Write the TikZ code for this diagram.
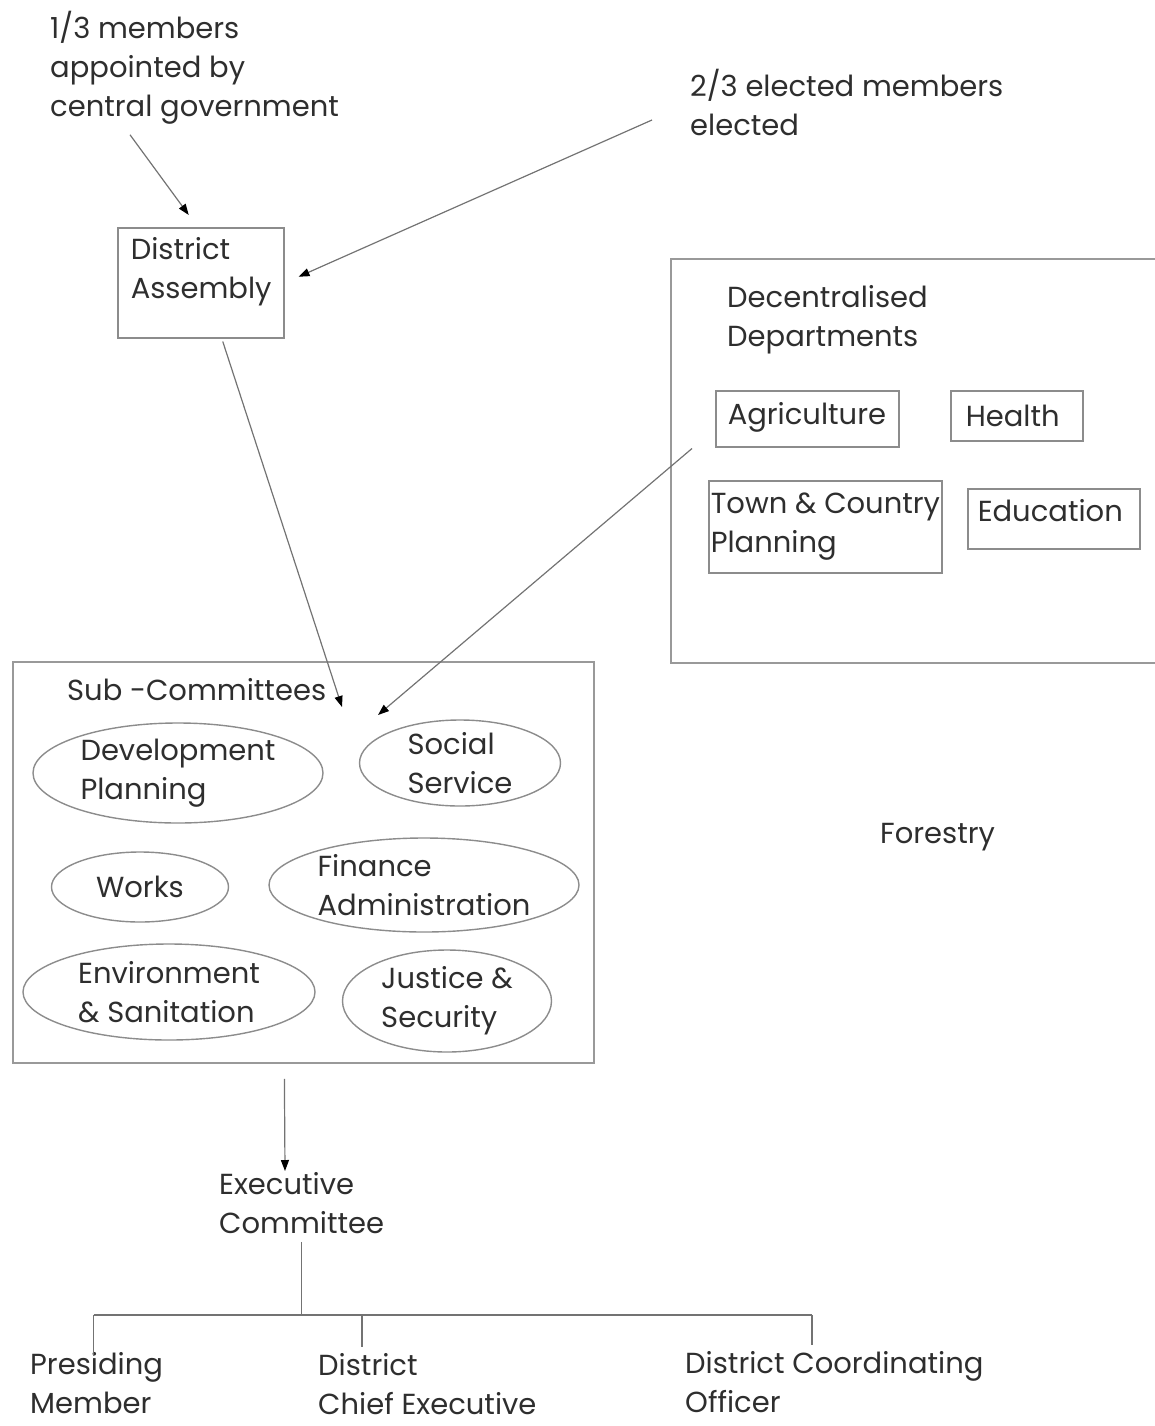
\documentclass[tikz,border=0pt]{standalone}
\usepackage{fontspec}
\setmainfont{Poppins}
\usetikzlibrary{
	arrows.meta,
	positioning,
	calc,
	shapes.geometric
}

\begin{document}
\begin{tikzpicture}[
	x=1pt, y=-1pt,
	every node/.style={font=\fontsize{29}{39}\selectfont, text=black!82},
	txt/.style={anchor=west, align=left, inner sep=0pt},
	frame/.style={
		rectangle,
		draw=black!40,
		line width=1.8pt,
		anchor=north west,
		inner sep=0pt
	},
	unit/.style={
		rectangle,
		draw=black!45,
		line width=1.5pt,
		anchor=north west,
		align=left,
		inner ysep=0pt
	},
	comm/.style={
		ellipse,
		draw=black!45,
		line width=1.4pt,
		align=left,
		inner xsep=0pt,
		inner ysep=-12pt
	},
	link/.style={draw=black!55, line width=1.2pt},
	arrow/.style={link, -{Triangle[length=11pt,width=8pt,black]}}
]
\useasboundingbox (0,0) rectangle (1155,1426);

% Membership
\node[txt] (third) at (50,68) {1/3 members\\appointed by\\central government};
\node[txt] (elected) at (690,102) {2/3 elected members\\elected};

\node[unit, minimum width=166, minimum height=110, text width=140, inner xsep=13] (assembly) at (117,227)
	{District\\Assembly\rule[-30pt]{0pt}{1pt}};

\draw[arrow] ($(third.south west)+(80,10)$) -- ($(assembly.north)+(-12,-12)$);
\draw[arrow] ($(elected.west)+(-38,18)$) -- ($(assembly.east)+(14,-6)$);

% Decentralised departments
\node[frame, minimum width=500, minimum height=404] (deptbox) at (670,258) {};
\node[txt] (depttitle) at (727,320) {Decentralised\\Departments};

\node[unit, minimum width=183, minimum height=56, text width=159, inner xsep=12] (agri) at (715,390)
	{Agriculture\rule[-10pt]{0pt}{1pt}};
\node[unit, minimum width=132, minimum height=50, text width=102, inner xsep=15] (health) at (950,390)
	{Health};
\node[unit, minimum width=232, minimum height=92, inner xsep=2] (town) at (708,480)
	{Town \& Country\\Planning};
\node[unit, minimum width=172, minimum height=60, text width=152, inner xsep=10] (educ) at (967,488)
	{Education\rule[-16pt]{0pt}{1pt}};

\node[txt] (forestry) at (880,837) {Forestry};

% Sub-committees
\node[frame, minimum width=581, minimum height=401] (subbox) at (12,661) {};
\node[txt] (subtitle) at (67,690) {Sub -Committees};

\node[comm, minimum width=290, minimum height=100] (devplan) at (178,773) {Development\\Planning};
\node[comm, minimum width=201, minimum height=86] (social) at (460,763) {Social\\Service};
\node[comm, minimum width=177, minimum height=70, inner ysep=0pt] (works) at (140,887) {Works};
\node[comm, minimum width=310, minimum height=94] (finance) at (424,885) {Finance\\Administration};
\node[comm, minimum width=292, minimum height=96] (environ) at (169,992) {Environment\\\& Sanitation};
\node[comm, minimum width=209, minimum height=102] (justice) at (447,1001) {Justice \&\\Security};

\draw[arrow] ($(assembly.south)+(22,3)$) -- ($(subbox.north west)+(330,46)$);
\draw[arrow] ($(agri.south west)+(-23,1)$) -- ($(subbox.north west)+(366,54)$);

% Executive committee
\node[txt] (exec) at (219,1203) {Executive\\Committee};
\draw[arrow] ($(subbox.south)+(-19,15)$) -- ($(exec.west)+(66,-32)$);

\node[txt] (presiding) at (30,1383) {Presiding\\Member};
\node[txt] (dce) at (318,1384) {District\\Chief Executive};
\node[txt] (dco) at (685,1382) {District Coordinating\\Officer};

\coordinate (busline) at (0,1315);
\coordinate (bus) at (exec.south |- busline);
\coordinate (pmtop) at ($(presiding.north)+(-3,4)$);
\coordinate (dcetop) at ($(dce.north west)+(44,-6)$);
\coordinate (dcotop) at ($(dco.north west)+(127,-6)$);

\draw[link] ($(exec.south)+(0,8)$) -- (bus);
\draw[link] (bus -| pmtop) -- (bus -| dcotop);
\draw[link] (pmtop |- bus) -- (pmtop);
\draw[link] (dcetop |- bus) -- (dcetop);
\draw[link] (dcotop |- bus) -- (dcotop);
\end{tikzpicture}
\end{document}
